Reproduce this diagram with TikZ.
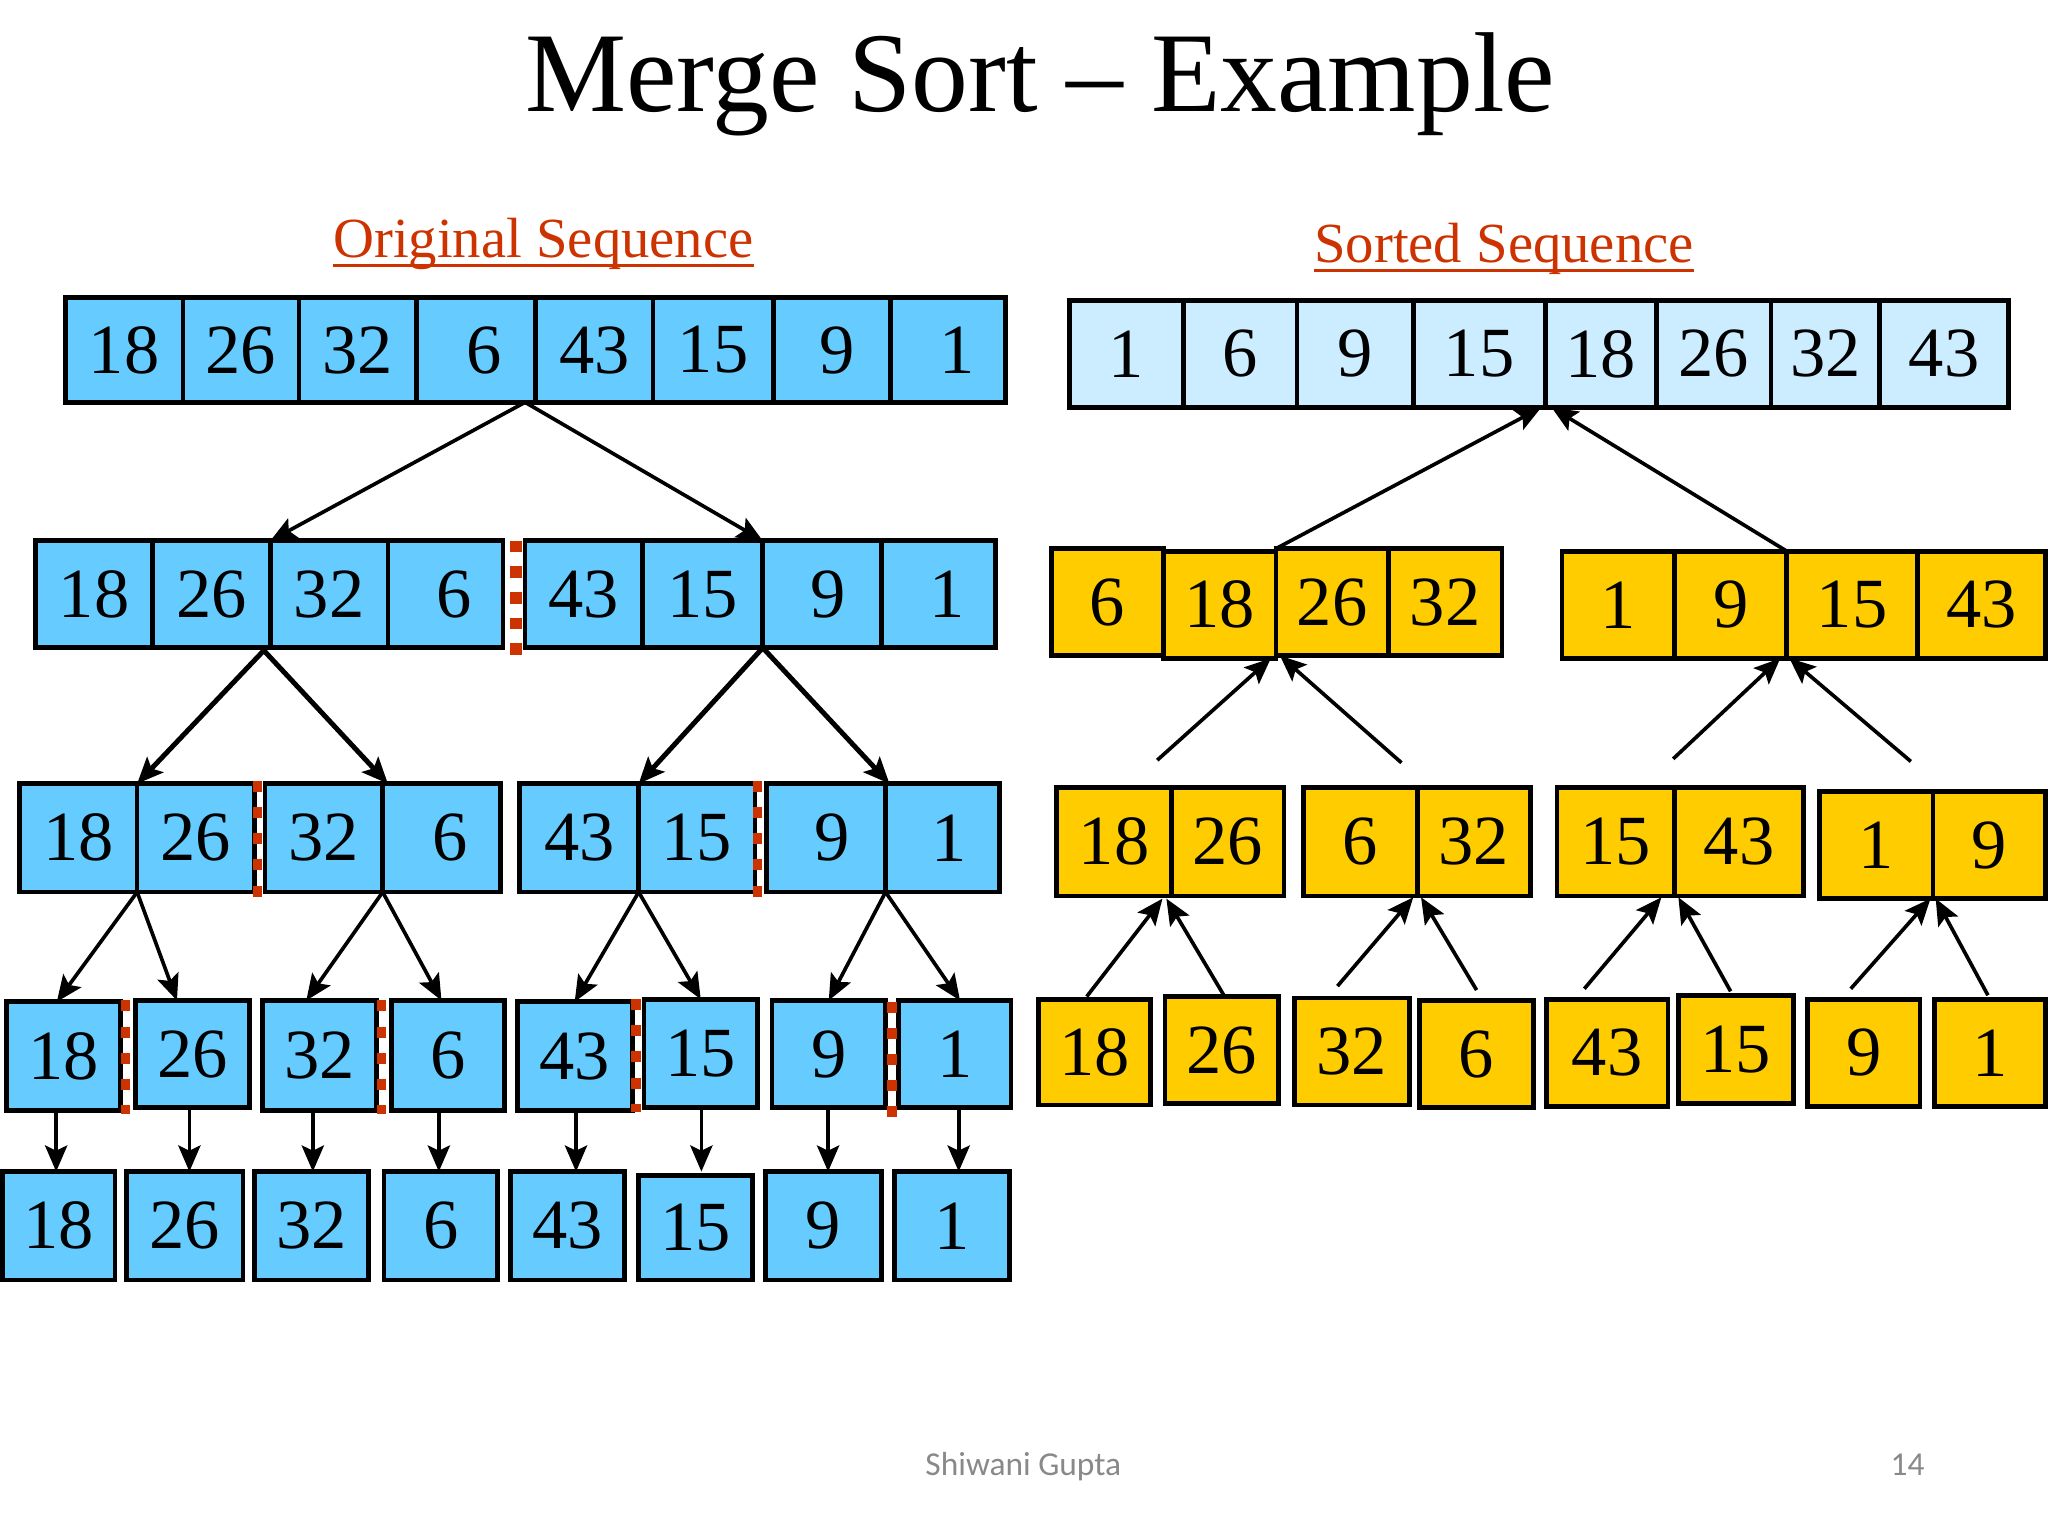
\documentclass[tikz,border=0pt]{standalone}
\usepackage{fontspec}
\setmainfont{Liberation Serif}
\newfontfamily\footfont{Carlito}
\usetikzlibrary{calc,arrows.meta}
\definecolor{blueC}{HTML}{66CCFF}
\definecolor{lightC}{HTML}{CCECFF}
\definecolor{yellowC}{HTML}{FFCC00}
\definecolor{redC}{HTML}{CC3300}
\definecolor{grayC}{HTML}{898989}
\tikzset{
 cell/.style={draw=black, line width=1.8pt, inner sep=0pt, outer sep=0pt, font=\fontsize{27}{27}\selectfont},
 bcell/.style={cell, fill=blueC},
 lcell/.style={cell, fill=lightC},
 ycell/.style={cell, fill=yellowC},
 arr/.style={line width=1.4pt, -{Stealth[length=10pt,width=8.5pt,inset=2pt]}},
 thickarr/.style={arr, line width=1.9pt},
 splitline/.style={draw=redC, line width=3.6pt, dash pattern=on 4.2pt off 5.8pt},
 heading/.style={anchor=base, inner sep=0pt, text=redC, font=\fontsize{21.7}{22}\selectfont},
 footer/.style={anchor=base, inner sep=0pt, text=grayC, font=\footfont\fontsize{12.8}{13}\selectfont},
}
\newcommand\cellnode[7]{\node[#2, minimum width={(#4-#3)*0.5pt}, minimum height={(#6-#5)*0.5pt}] (#1) at ({(#3+#4)/2},{(#5+#6)/2}) {#7};}
\begin{document}
\begin{tikzpicture}[x=0.5pt,y=-0.5pt]
\useasboundingbox (0,0) rectangle (1568,1176);
% title and headings
\node[anchor=base, inner sep=0pt, font=\fontsize{43.5}{44}\selectfont] (title) at (796.5,85) {Merge Sort – Example};
\node[heading] (orig) at (416,197) {Original Sequence};
\draw[redC, line width=1.2pt] ($(orig.base west)+(0,6)$) -- ($(orig.base east)+(0,6)$);
\node[heading] (sorted) at (1151.5,201) {Sorted Sequence};
\draw[redC, line width=1.2pt] ($(sorted.base west)+(0,6)$) -- ($(sorted.base east)+(0,6)$);
% ---------- left: row 1
\cellnode{L1a}{bcell}{50}{140}{228}{308}{18}
\cellnode{L1b}{bcell}{140}{229}{228}{308}{26}
\cellnode{L1c}{bcell}{229}{319}{228}{308}{32}
\cellnode{L1d}{bcell}{319}{410}{228}{308}{\hspace*{6pt}6}
\cellnode{L1e}{bcell}{410}{500}{228}{308}{43}
\cellnode{L1f}{bcell}{500}{592}{228}{308}{15}
\cellnode{L1g}{bcell}{592}{682}{228}{308}{\hspace*{4pt}9}
\cellnode{L1h}{bcell}{682}{770}{228}{308}{\hspace*{7pt}1}
% row 2
\cellnode{L2a}{bcell}{27}{117}{414}{496}{18}
\cellnode{L2b}{bcell}{117}{207}{414}{496}{26}
\cellnode{L2c}{bcell}{207}{297}{414}{496}{32}
\cellnode{L2d}{bcell}{297}{385}{414}{496}{\hspace*{7pt}6}
\cellnode{L2e}{bcell}{402}{492}{414}{496}{43}
\cellnode{L2f}{bcell}{492}{584}{414}{496}{15}
\cellnode{L2g}{bcell}{584}{675}{414}{496}{\hspace*{4.5pt}9}
\cellnode{L2h}{bcell}{675}{762}{414}{496}{\hspace*{6.5pt}1}
% row 3
\cellnode{L3a}{bcell}{15}{105}{600}{683}{18}
\cellnode{L3b}{bcell}{105}{195}{600}{683}{26}
\cellnode{L3c}{bcell}{203}{293}{600}{683}{32}
\cellnode{L3d}{bcell}{293}{383}{600}{683}{\hspace*{7pt}6}
\cellnode{L3e}{bcell}{398}{489}{600}{683}{43}
\cellnode{L3f}{bcell}{489}{578}{600}{683}{15}
\cellnode{L3g}{bcell}{587}{678}{600}{683}{\hspace*{4.5pt}9}
\cellnode{L3h}{bcell}{678}{765}{600}{683}{\hspace*{5.5pt}1}
% row 4
\cellnode{L4a}{bcell}{5}{92}{767}{850}{18}
\cellnode{L4b}{bcell}{104}{191}{766}{848}{26}
\cellnode{L4c}{bcell}{201}{288}{766}{850}{32}
\cellnode{L4d}{bcell}{300}{386}{766}{850}{6}
\cellnode{L4e}{bcell}{396}{484}{767}{850}{43}
\cellnode{L4f}{bcell}{493}{580}{765}{848}{15}
\cellnode{L4g}{bcell}{591}{678}{766}{848}{9}
\cellnode{L4h}{bcell}{688}{774}{766}{848}{1}
% row 5
\cellnode{L5a}{bcell}{2}{88}{897}{980}{18}
\cellnode{L5b}{bcell}{97}{186}{897}{980}{26}
\cellnode{L5c}{bcell}{195}{282}{897}{980}{32}
\cellnode{L5d}{bcell}{294}{381}{897}{980}{6}
\cellnode{L5e}{bcell}{391}{478}{897}{980}{43}
\cellnode{L5f}{bcell}{489}{576}{900}{980}{15}
\cellnode{L5g}{bcell}{586}{675}{897}{980}{9}
\cellnode{L5h}{bcell}{685}{773}{897}{980}{1}
% ---------- right: row 1
\cellnode{R1a}{lcell}{819}{906}{230}{312}{1}
\cellnode{R1b}{lcell}{906}{993}{230}{312}{6}
\cellnode{R1c}{lcell}{993}{1082}{230}{312}{9}
\cellnode{R1d}{lcell}{1082}{1183}{230}{312}{15}
\cellnode{R1e}{lcell}{1183}{1268}{230}{312}{18}
\cellnode{R1f}{lcell}{1268}{1356}{230}{312}{26}
\cellnode{R1g}{lcell}{1356}{1439}{230}{312}{32}
\cellnode{R1h}{lcell}{1439}{1538}{230}{312}{43}
% row 2
\cellnode{R2a}{ycell}{805}{891}{420}{502}{6}
\cellnode{R2b}{ycell}{891}{977}{422}{504}{18}
\cellnode{R2c}{ycell}{977}{1063}{420}{502}{26}
\cellnode{R2d}{ycell}{1063}{1150}{420}{502}{32}
\cellnode{R2e}{ycell}{1196}{1282}{422}{504}{1}
\cellnode{R2f}{ycell}{1282}{1368}{422}{504}{9}
\cellnode{R2g}{ycell}{1368}{1468}{422}{504}{15}
\cellnode{R2h}{ycell}{1468}{1566}{422}{504}{43}
% row 3
\cellnode{R3a}{ycell}{809}{897}{603}{686}{18}
\cellnode{R3b}{ycell}{897}{983}{603}{686}{26}
\cellnode{R3c}{ycell}{998}{1085}{603}{686}{6}
\cellnode{R3d}{ycell}{1085}{1172}{603}{686}{32}
\cellnode{R3e}{ycell}{1192}{1282}{603}{686}{15}
\cellnode{R3f}{ycell}{1282}{1381}{603}{686}{43}
\cellnode{R3g}{ycell}{1393}{1480}{606}{688}{1}
\cellnode{R3h}{ycell}{1480}{1566}{606}{688}{9}
% row 4
\cellnode{R4a}{ycell}{795}{881}{765}{846}{18}
\cellnode{R4b}{ycell}{892}{979}{763}{845}{26}
\cellnode{R4c}{ycell}{991}{1079}{764}{846}{32}
\cellnode{R4d}{ycell}{1087}{1174}{766}{848}{6}
\cellnode{R4e}{ycell}{1184}{1277}{765}{847}{43}
\cellnode{R4f}{ycell}{1285}{1373}{762}{845}{15}
\cellnode{R4g}{ycell}{1384}{1470}{765}{847}{9}
\cellnode{R4h}{ycell}{1481}{1566}{765}{847}{1}
% ---------- split markers
\draw[splitline, line width=4.6pt, dash pattern=on 4.5pt off 5.3pt] ($(L2d.north east)+(10,0)$) -- ($(L2d.south east)+(10,9)$);
\draw[splitline] ($(L3b.north east)+(2,-2)$) -- ($(L3b.south east)+(2,5)$);
\draw[splitline] ($(L3f.north east)+(2,-2)$) -- ($(L3f.south east)+(2,5)$);
\draw[splitline] ($(L4a.north east)+(4,-1)$) -- ($(L4a.south east)+(4,3)$);
\draw[splitline] ($(L4c.north east)+(4,0)$) -- ($(L4c.south east)+(4,3)$);
\draw[splitline] ($(L4e.north east)+(3,-2)$) -- ($(L4e.south east)+(3,1)$);
\draw[splitline] ($(L4g.north east)+(5,1)$) -- ($(L4g.south east)+(5,9)$);
% ---------- divide arrows
\draw[arr] ($(L1d.south east)+(-8,0)$) -- (L2b.north east);
\draw[arr] ($(L1d.south east)+(-8,0)$) -- (L2f.north east);
\draw[thickarr] ($(L2b.south east)+(-5,2)$) -- (L3a.north east);
\draw[thickarr] ($(L2b.south east)+(-5,2)$) -- ($(L3c.north east)+(4,0)$);
\draw[thickarr] (L2f.south east) -- (L3e.north east);
\draw[thickarr] (L2f.south east) -- ($(L3g.north east)+(3,0)$);
\draw[arr] (L3a.south east) -- ($(L4a.north)+(-5,0)$);
\draw[arr] (L3a.south east) -- ($(L4b.north)+(-12,0)$);
\draw[arr] (L3c.south east) -- ($(L4c.north)+(-10,0)$);
\draw[arr] (L3c.south east) -- ($(L4d.north)+(-5,0)$);
\draw[arr] (L3e.south east) -- (L4e.north);
\draw[arr] (L3e.south east) -- (L4f.north);
\draw[arr] (L3g.south east) -- (L4g.north);
\draw[arr] (L3g.south east) -- ($(L4h.north)+(4,0)$);
\coordinate (h1) at ($(L5a.north)+(-2,0)$);
\coordinate (h2) at ($(L5b.north)+(3.5,0)$);
\coordinate (h3) at ($(L5c.north)+(1,0)$);
\coordinate (h4) at ($(L5d.north)+(-1.5,0)$);
\coordinate (h5) at ($(L5e.north)+(6.5,0)$);
\coordinate (h6) at ($(L5f.north)+(4.5,-3)$);
\coordinate (h7) at ($(L5g.north)+(3.5,0)$);
\coordinate (h8) at ($(L5h.north)+(5,0)$);
\draw[arr] (h1 |- L4a.south) -- (h1);
\draw[arr] (h2 |- L4b.south) -- (h2);
\draw[arr] (h3 |- L4c.south) -- (h3);
\draw[arr] (h4 |- L4d.south) -- (h4);
\draw[arr] (h5 |- L4e.south) -- (h5);
\draw[arr] (h6 |- L4f.south) -- (h6);
\draw[arr] (h7 |- L4g.south) -- (h7);
\draw[arr] (h8 |- L4h.south) -- (h8);
% ---------- merge arrows
\draw[arr] (R2c.north west) -- ($(R1d.south east)+(-3,0)$);
\draw[arr] (R2g.north west) -- ($(R1e.south west)+(5,0)$);
\coordinate (t1) at (886,582);
\coordinate (t2) at (1073,584);
\coordinate (t3) at (1281,581);
\coordinate (t4) at (1463,583);
\draw[arr] (t1) -- ($(R2b.south east)+(-4,0)$);
\draw[arr] (t2) -- ($(R2c.south west)+(3,0)$);
\draw[arr] (t3) -- ($(R2f.south east)+(-5,0)$);
\draw[arr] (t4) -- ($(R2g.south west)+(2,0)$);
\draw[arr] ($(R4a.north)+(-6,-2)$) -- ($(R3a.south east)+(-7,2)$);
\draw[arr] ($(R4b.north)+(1.5,-1)$) -- ($(R3b.south west)+(-4,2)$);
\draw[arr] ($(R4c.north)+(-11,-9)$) -- ($(R3c.south east)+(-3,1)$);
\draw[arr] ($(R4d.north)+(0,-8)$) -- ($(R3d.south west)+(3,1)$);
\draw[arr] ($(R4e.north)+(-17.5,-8)$) -- ($(R3e.south east)+(-10,1)$);
\draw[arr] ($(R4f.north)+(-4,-3)$) -- ($(R3f.south west)+(3,1)$);
\draw[arr] ($(R4g.north)+(-10,-8)$) -- ($(R3g.south east)+(-2,0)$);
\draw[arr] ($(R4h.north)+(-1.5,-3)$) -- ($(R3h.south west)+(2,0)$);
% ---------- footer
\node[footer] (author) at (783.5,1130) {Shiwani Gupta};
\node[footer] (page) at (1460.5,1130) {14};
\end{tikzpicture}
\end{document}
